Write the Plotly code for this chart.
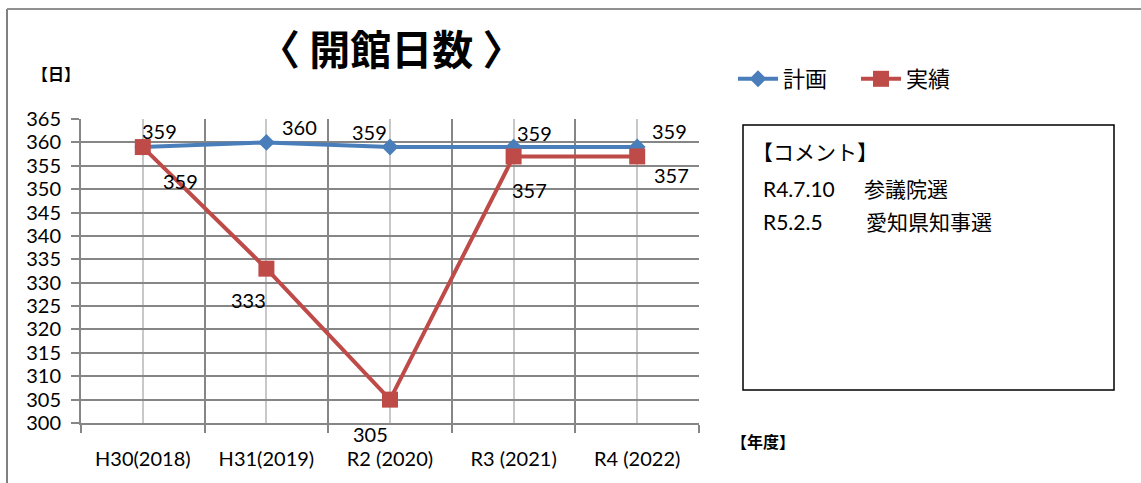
import plotly.graph_objects as go

categories = ["H30(2018)", "H31(2019)", "R2 (2020)", "R3 (2021)", "R4 (2022)"]
plan = [359, 360, 359, 359, 359]
actual = [359, 333, 305, 357, 357]
y_ticks = list(range(300, 366, 5))
series_names = ["計画", "実績"]
comment_title = "【コメント】"
comment_dates = ["R4.7.10", "R5.2.5"]
comment_events = ["参議院選", "愛知県知事選"]

W, H = 1141, 483
L, R, T, B = 81, 699, 119, 423
FONT = "Lato, 'Noto Sans CJK JP', sans-serif"
JFONT = "'Noto Sans CJK JP', sans-serif"

def px2x(px):
    return (px - L) / (R - L)

def px2y(py):
    return (B - py) / (B - T)

xs = list(range(len(categories)))
BLUE = "#4a7ebb"
RED = "#be4b48"

fig = go.Figure()
fig.add_trace(go.Scatter(x=xs, y=plan, mode="lines+markers", name=series_names[0],
                         line=dict(color=BLUE, width=4),
                         marker=dict(symbol="diamond", size=13, color=BLUE)))
fig.add_trace(go.Scatter(x=xs, y=actual, mode="lines+markers", name=series_names[1],
                         line=dict(color=RED, width=4),
                         marker=dict(symbol="square", size=16, color=RED)))

plan_shift = [(17, 16), (33, 15), (-21, 15), (21, 14), (32, 16)]
act_shift = [(38, -34), (-18, -31), (-20, -34), (16, -34), (34, -19)]
anns = []
for i, v in enumerate(plan):
    anns.append(dict(x=xs[i], y=v, xref="x", yref="y", text=str(v), showarrow=False,
                     xshift=plan_shift[i][0], yshift=plan_shift[i][1],
                     font=dict(family=FONT, size=20, color="#000")))
for i, v in enumerate(actual):
    anns.append(dict(x=xs[i], y=v, xref="x", yref="y", text=str(v), showarrow=False,
                     xshift=act_shift[i][0], yshift=act_shift[i][1],
                     font=dict(family=FONT, size=20, color="#000")))

def paper_text(text, px, py, size, family=JFONT, xanchor="center"):
    return dict(x=px2x(px), y=px2y(py), xref="paper", yref="paper", text=text,
                xanchor=xanchor, yanchor="middle", showarrow=False,
                font=dict(family=family, size=size, color="#000"))

anns.append(paper_text("<b>〈 開館日数 〉</b>", 391, 47, 41))
anns.append(paper_text("<b>【日】</b>", 56, 73, 16))
anns.append(paper_text("<b>【年度】</b>", 763, 441, 16))
anns.append(paper_text(comment_title, 750, 151, 21, family=FONT, xanchor="left"))
for date, event, py, ex in zip(comment_dates, comment_events, [188, 221], [862, 864]):
    anns.append(paper_text(date, 761, py, 21, family=FONT, xanchor="left"))
    anns.append(paper_text(event, ex, py, 21, family=FONT, xanchor="left"))

shapes = [
    dict(type="rect", xref="paper", yref="paper", x0=px2x(743), x1=px2x(1114),
         y0=px2y(390), y1=px2y(125), line=dict(color="#000", width=1.5)),
    dict(type="line", xref="paper", yref="paper", x0=px2x(7), x1=px2x(7),
         y0=px2y(9), y1=px2y(483), line=dict(color="#808080", width=2)),
    dict(type="line", xref="paper", yref="paper", x0=px2x(7), x1=px2x(1141),
         y0=px2y(9), y1=px2y(9), line=dict(color="#909090", width=2)),
]

fig.update_layout(
    width=W, height=H,
    margin=dict(l=L, r=W - R, t=T, b=H - B),
    paper_bgcolor="white", plot_bgcolor="white",
    font=dict(family=FONT, size=20, color="#000"),
    showlegend=True,
    legend=dict(orientation="h", x=px2x(733), y=px2y(79), xanchor="left", yanchor="middle",
                font=dict(family=JFONT, size=22, color="#000"), bgcolor="rgba(0,0,0,0)",
                entrywidth=68, entrywidthmode="pixels", itemwidth=40, tracegroupgap=0),
    annotations=anns, shapes=shapes,
)
fig.update_xaxes(range=[-0.5, len(categories) - 0.5], tickvals=xs, ticktext=categories,
                 showgrid=True, gridcolor="#c8c8c8", gridwidth=2, ticks="",
                 ticklabelstandoff=17,
                 showline=True, linecolor="#868686", linewidth=2, zeroline=False,
                 tickfont=dict(family=FONT, size=20),
                 minor=dict(tickvals=[i - 0.5 for i in range(len(categories) + 1)],
                            showgrid=True, gridcolor="#868686", gridwidth=2,
                            ticks="outside", ticklen=8, tickcolor="#868686", tickwidth=2))
fig.update_yaxes(range=[300, 365], tickvals=y_ticks, showgrid=True, gridcolor="#868686",
                 gridwidth=2, ticks="outside", ticklen=8, tickcolor="#868686", tickwidth=2,
                 ticklabelstandoff=6,
                 showline=True, linecolor="#868686", linewidth=2, zeroline=False,
                 tickfont=dict(family=FONT, size=20))

fig.write_html("out.html", config={"displayModeBar": False},
               post_script="document.body.style.margin='0';")
